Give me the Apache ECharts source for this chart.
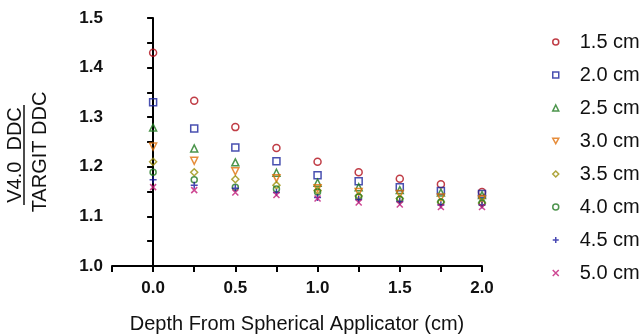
<!DOCTYPE html>
<html>
<head>
<meta charset="utf-8">
<script src="https://cdn.jsdelivr.net/npm/echarts@6/dist/echarts.min.js"></script>
<style>
  html, body { margin: 0; padding: 0; background: #fff; }
  #chart { width: 643px; height: 335px; }
</style>
</head>
<body>
<div id="chart"></div>
<script>
// depth from applicator (cm)
const depths = [0, 0.25, 0.5, 0.75, 1.0, 1.25, 1.5, 1.75, 2.0]
const seriesNames = ['1.5 cm', '2.0 cm', '2.5 cm', '3.0 cm', '3.5 cm', '4.0 cm', '4.5 cm', '5.0 cm']

// V4.0 DDC / TARGIT DDC ratio per applicator size
const ratio15 = [1.430, 1.333, 1.280, 1.238, 1.210, 1.189, 1.176, 1.165, 1.149]
const ratio20 = [1.330, 1.277, 1.239, 1.211, 1.183, 1.171, 1.159, 1.151, 1.145]
const ratio25 = [1.279, 1.237, 1.209, 1.188, 1.168, 1.159, 1.153, 1.148, 1.143]
const ratio30 = [1.241, 1.212, 1.191, 1.177, 1.157, 1.149, 1.145, 1.138, 1.134]
const ratio35 = [1.210, 1.189, 1.175, 1.163, 1.152, 1.141, 1.136, 1.129, 1.127]
const ratio40 = [1.189, 1.174, 1.159, 1.155, 1.149, 1.139, 1.134, 1.129, 1.127]
const ratio45 = [1.174, 1.163, 1.157, 1.148, 1.138, 1.134, 1.130, 1.123, 1.123]
const ratio50 = [1.159, 1.153, 1.148, 1.143, 1.136, 1.128, 1.124, 1.119, 1.119]

const allRatios = [ratio15, ratio20, ratio25, ratio30, ratio35, ratio40, ratio45, ratio50]

const colors = ['#b00c18', '#1c249c', '#1f7a1f', '#e0700a', '#9a8e0a', '#237a23', '#1a1aa0', '#c21a78']
const symbols = [
  'circle', 'rect', 'triangle',
  'path://M0,0L10,0L5,9Z',
  'diamond', 'circle',
  'path://M5,0L5,10M0,5L10,5',
  'path://M0,0L10,10M10,0L0,10'
]
const sizes = [7, 7, 7, 7, 7, 6, 7, 6]

const chart = echarts.init(document.getElementById('chart'))

const series = seriesNames.map((name, i) => ({
  name: name,
  type: 'scatter',
  data: depths.map((d, j) => [d, allRatios[i][j]]),
  symbol: symbols[i],
  symbolSize: sizes[i],
  itemStyle: {
    color: 'rgba(0,0,0,0)',
    borderColor: colors[i],
    borderWidth: 1.5
  },
  emphasis: { disabled: true }
}))

const option = {
  animation: false,
  textStyle: { fontFamily: 'Liberation Sans, Arial, sans-serif' },
  grid: { left: 112, top: 18, right: 161, bottom: 69, outerBoundsMode: 'none', containLabel: false },
  legend: {
    orient: 'vertical',
    left: 547,
    top: 27,
    itemWidth: 6,
    itemHeight: 6,
    itemGap: 13,
    textStyle: { fontSize: 20, color: '#111', padding: [0, 0, 0, 16], lineHeight: 20 },
    data: seriesNames.map((n, i) => ({
      name: n,
      icon: symbols[i],
      itemStyle: { color: 'rgba(0,0,0,0)', borderColor: colors[i], borderWidth: 1.5 }
    }))
  },
  xAxis: {
    type: 'value',
    min: -0.25,
    max: 2.0,
    interval: 0.25,
    name: 'Depth From Spherical Applicator (cm)',
    nameLocation: 'middle',
    nameGap: 48,
    nameTextStyle: { fontSize: 20, color: '#111' },
    axisLine: { lineStyle: { color: '#000', width: 2 } },
    axisTick: { length: 6, lineStyle: { color: '#000', width: 2 } },
    axisLabel: {
      fontSize: 17,
      fontWeight: 'bold',
      color: '#111',
      margin: 14,
      formatter: v => {
        const k = Math.round(v * 100)
        return (k >= 0 && k % 50 === 0) ? v.toFixed(1) : ''
      }
    },
    splitLine: { show: false }
  },
  yAxis: {
    type: 'value',
    min: 1.0,
    max: 1.5,
    interval: 0.05,
    axisLine: { show: true, lineStyle: { color: '#000', width: 2 } },
    axisTick: { show: true, length: 6, lineStyle: { color: '#000', width: 2 } },
    axisLabel: {
      fontSize: 17,
      fontWeight: 'bold',
      color: '#111',
      margin: 9,
      formatter: v => (Math.round(v * 100) % 10 === 0 ? v.toFixed(1) : '')
    },
    splitLine: { show: false }
  },
  graphic: [
    {
      type: 'text',
      x: 15,
      y: 155,
      rotation: Math.PI / 2,
      style: {
        text: 'V4.0  DDC',
        fontSize: 20,
        fontFamily: 'Liberation Sans, Arial, sans-serif',
        fill: '#111',
        align: 'center',
        verticalAlign: 'middle'
      }
    },
    {
      type: 'line',
      shape: { x1: 24, y1: 105, x2: 24, y2: 205 },
      style: { stroke: '#111', lineWidth: 1.5 }
    },
    {
      type: 'text',
      x: 40,
      y: 152,
      rotation: Math.PI / 2,
      style: {
        text: 'TARGIT DDC',
        fontSize: 20,
        fontFamily: 'Liberation Sans, Arial, sans-serif',
        fill: '#111',
        align: 'center',
        verticalAlign: 'middle'
      }
    }
  ],
  series: series
}

chart.setOption(option)
</script>
</body>
</html>
